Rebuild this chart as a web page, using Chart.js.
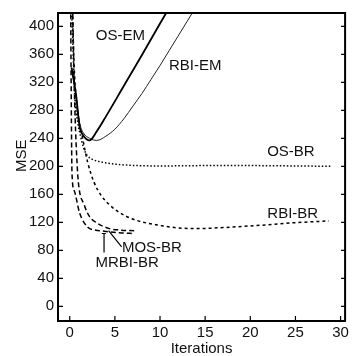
<!DOCTYPE html>
<html>
<head>
<meta charset="utf-8">
<script src="https://cdn.jsdelivr.net/npm/chart.js@4.4.1/dist/chart.umd.min.js"></script>
<style>
  body { margin: 0; background: #fff; }
  #wrap { width: 352px; height: 356px; }
</style>
</head>
<body>
<div id="wrap"><canvas id="myChart" width="352" height="356"></canvas></div>
<script>
// datos (iteraciones vs MSE)
const xTicks = [0, 5, 10, 15, 20, 25, 30];
const yTicks = [0, 40, 80, 120, 160, 200, 240, 280, 320, 360, 400];

const osEmX = [0.2, 0.7, 1.1, 1.5, 2.2, 3, 4, 6, 8, 10, 11];
const osEmY = [341, 302, 256, 244, 237, 250, 271, 315, 359, 404, 426];

const rbiEmX = [0.2, 0.7, 1.1, 1.5, 2.2, 3, 4, 5, 6, 7, 8, 9, 10, 11, 12, 13, 14];
const rbiEmY = [341, 300, 262, 248, 240, 237, 243, 253, 268, 286, 304, 324, 344, 365, 386, 407, 428];

const osBrX = [0.15, 0.3, 0.55, 0.9, 1.2, 1.5, 1.9, 2.5, 3.2, 4.2, 6, 10, 15, 20, 25, 29];
const osBrY = [440, 390, 302, 262, 243, 228, 216, 210, 207, 204.5, 202, 200.5, 201, 201, 200.5, 200];

const rbiBrX = [0.25, 0.5, 0.8, 1.4, 2, 2.7, 3.5, 4.4, 5.5, 6.9, 8.5, 9.8, 11.6, 14, 17, 19, 22, 24.4, 26.5, 28.7];
const rbiBrY = [440, 340, 285, 242, 205, 177, 158, 145, 134, 125, 119, 116, 112.5, 111, 112.5, 114, 116.5, 119, 120.5, 122];

const mosBrX = [0.3, 0.55, 0.75, 0.95, 1.6, 2.2, 3, 4.4, 5.5, 7.3];
const mosBrY = [440, 290, 220, 178, 145, 128, 119, 111, 109, 108];

const mrbiBrX = [0.1, 0.15, 0.25, 0.5, 1.1, 2, 2.8, 4, 5.5, 7.2];
const mrbiBrY = [440, 330, 190, 165, 133, 113, 109, 107, 105, 104];

// etiquetas de las curvas (en coordenadas de datos)
const labelTexts = ['OS-EM', 'RBI-EM', 'OS-BR', 'RBI-BR', 'MOS-BR', 'MRBI-BR'];
const labelX = [5.6, 13.9, 24.5, 24.7, 9.1, 6.35];
const labelY = [387, 344, 220, 132, 83, 62];

const FONT = "'Liberation Sans', Arial, Helvetica, sans-serif";
Chart.defaults.font.family = FONT;
Chart.defaults.font.size = 15;
Chart.defaults.color = '#111';

function pts(xs, ys) {
  return xs.map((x, i) => ({ x: x, y: ys[i] }));
}

function serie(label, xs, ys, width, dash, color) {
  return {
    label: label,
    data: pts(xs, ys),
    borderColor: color || '#000',
    borderWidth: width,
    borderDash: dash,
    pointRadius: 0,
    fill: false,
    cubicInterpolationMode: 'monotone'
  };
}

// marcas hacia adentro, marco, textos y flechas
const adornos = {
  id: 'adornos',
  afterDatasetsDraw(chart) {
    const ctx = chart.ctx;
    const a = chart.chartArea;
    const xs = chart.scales.x;
    const ys = chart.scales.y;
    ctx.save();
    ctx.strokeStyle = '#000';

    // marco arriba y derecha
    ctx.lineWidth = 2;
    ctx.beginPath();
    ctx.moveTo(a.left, a.top);
    ctx.lineTo(a.right, a.top);
    ctx.lineTo(a.right, a.bottom);
    ctx.stroke();

    ctx.lineWidth = 1.2;
    ctx.beginPath();
    yTicks.forEach(v => {
      const py = ys.getPixelForValue(v);
      ctx.moveTo(a.left, py); ctx.lineTo(a.left + 5, py);
      ctx.moveTo(a.right, py); ctx.lineTo(a.right - 4, py);
    });
    xTicks.forEach(v => {
      const px = xs.getPixelForValue(v);
      ctx.moveTo(px, a.bottom); ctx.lineTo(px, a.bottom - 5);
    });
    ctx.stroke();

    // lineas que apuntan a MOS-BR y MRBI-BR
    ctx.lineWidth = 1.2;
    ctx.beginPath();
    ctx.moveTo(xs.getPixelForValue(3.55), ys.getPixelForValue(104));
    ctx.lineTo(xs.getPixelForValue(4.0), ys.getPixelForValue(104));
    ctx.moveTo(xs.getPixelForValue(3.8), ys.getPixelForValue(104));
    ctx.lineTo(xs.getPixelForValue(3.8), ys.getPixelForValue(77));
    ctx.moveTo(xs.getPixelForValue(4.3), ys.getPixelForValue(108));
    ctx.lineTo(xs.getPixelForValue(5.75), ys.getPixelForValue(85));
    ctx.stroke();

    ctx.fillStyle = '#111';
    ctx.font = '15px ' + FONT;
    ctx.textAlign = 'center';
    ctx.textBaseline = 'middle';
    labelTexts.forEach((t, i) => {
      ctx.fillText(t, xs.getPixelForValue(labelX[i]), ys.getPixelForValue(labelY[i]));
    });

    // titulo del eje y
    ctx.translate(22, ys.getPixelForValue(215));
    ctx.rotate(-Math.PI / 2);
    ctx.fillText('MSE', 0, 0);
    ctx.restore();
  }
};

const ctx = document.getElementById('myChart');

const myChart = new Chart(ctx, {
  type: 'line',
  data: {
    datasets: [
      serie('OS-EM', osEmX, osEmY, 1.8, []),
      serie('RBI-EM', rbiEmX, rbiEmY, 1, [], '#222'),
      serie('OS-BR', osBrX, osBrY, 1.5, [1.5, 2]),
      serie('RBI-BR', rbiBrX, rbiBrY, 1.5, [3, 3]),
      serie('MOS-BR', mosBrX, mosBrY, 1.5, [5, 3]),
      serie('MRBI-BR', mrbiBrX, mrbiBrY, 1.5, [5, 3])
    ]
  },
  options: {
    responsive: false,
    animation: false,
    layout: { padding: { top: 7, right: 5, left: 0, bottom: 0 } },
    plugins: {
      legend: { display: false },
      tooltip: { enabled: false }
    },
    scales: {
      x: {
        type: 'linear',
        min: -1.3,
        max: 30.5,
        afterBuildTicks: s => { s.ticks = xTicks.map(v => ({ value: v })); },
        afterFit: s => { s.height = 35; },
        grid: { display: false, drawTicks: false },
        border: { display: true, color: '#000', width: 2 },
        ticks: { padding: 3, autoSkip: false, maxRotation: 0, color: '#111' },
        title: {
          display: true,
          text: 'Iterations',
          color: '#111',
          font: { size: 15, lineHeight: 1 },
          padding: { top: 0, bottom: 0 }
        }
      },
      y: {
        min: -21,
        max: 419,
        afterBuildTicks: s => { s.ticks = yTicks.map(v => ({ value: v })); },
        afterFit: s => { s.width = 58; },
        grid: { display: false, drawTicks: false },
        border: { display: true, color: '#000', width: 2 },
        ticks: { padding: 4, autoSkip: false, color: '#111' }
      }
    }
  },
  plugins: [adornos]
});
</script>
</body>
</html>
